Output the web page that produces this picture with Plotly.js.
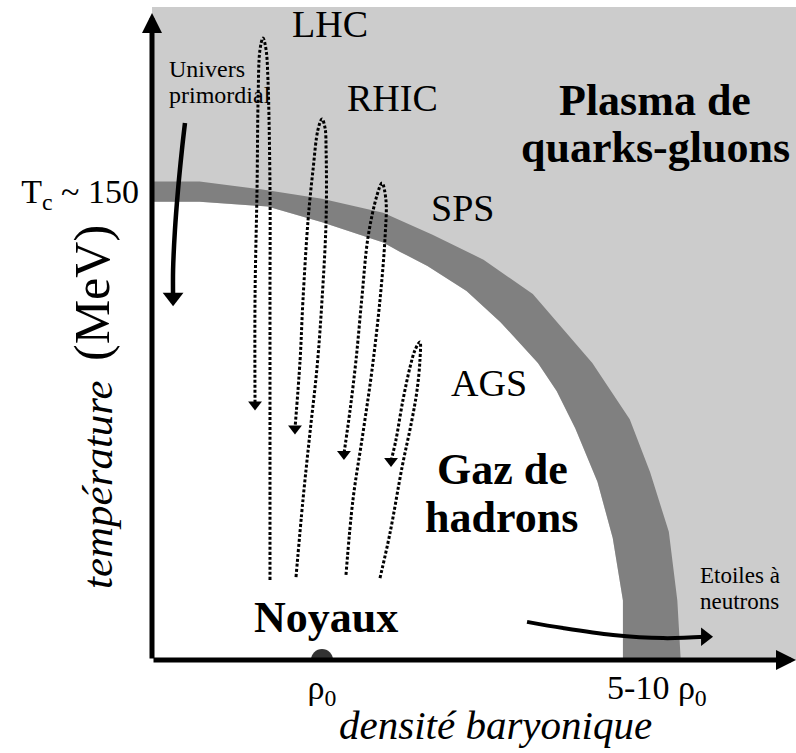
<!DOCTYPE html>
<html><head><meta charset="utf-8">
<script src="https://cdn.plot.ly/plotly-3.0.1.min.js"></script>
<style>html,body{margin:0;padding:0;background:#fff}#chart{width:796px;height:753px}</style>
</head><body><div id="chart"></div>
<script>
// Phase boundary band: density in units of rho0, temperature in MeV
const bandOuterX = [0, 0.28, 0.64, 1.0, 1.36, 1.65, 1.95, 2.24, 2.59, 2.81, 2.93, 3.04, 3.09, 3.11];
const bandOuterT = [153, 153, 150.5, 147.5, 143, 136, 128, 117, 95, 77, 60, 41, 19, 0];
const bandInnerX = [0, 0.28, 0.68, 1.0, 1.36, 1.46, 1.62, 1.85, 2.05, 2.27, 2.38, 2.49, 2.62, 2.71, 2.77, 2.77];
const bandInnerT = [146.5, 146.5, 145, 140, 133.5, 130.5, 126, 118, 108, 95, 86, 74, 57, 39, 19, 0];

// Collision trajectories (rise then cool down)
const lhcX  = [0.694, 0.694, 0.694, 0.694, 0.682, 0.671, 0.653, 0.635, 0.624, 0.618, 0.606, 0.606];
const lhcT  = [25.6, 72.6, 116.1, 151.3, 185.5, 195.1, 198.9, 195.1, 179.1, 151.3, 116.1, 81.7];
const rhicX = [0.847, 0.888, 0.929, 0.971, 1.0, 1.024, 1.024, 1.018, 1.0, 0.976, 0.947, 0.918, 0.888, 0.871, 0.841];
const rhicT = [26.5, 51.2, 72.6, 93.7, 115.1, 140.7, 163.1, 170.1, 173.0, 169.5, 156.7, 140.7, 115.1, 95.9, 74.0];
const spsX  = [1.141, 1.182, 1.241, 1.294, 1.341, 1.371, 1.376, 1.353, 1.324, 1.271, 1.235, 1.2, 1.165, 1.129];
const spsT  = [27.2, 51.2, 72.6, 92.7, 115.1, 135.3, 147.1, 152.5, 148.7, 135.3, 116.1, 95.9, 79.9, 65.9];
const agsX  = [1.341, 1.4, 1.471, 1.529, 1.559, 1.576, 1.576, 1.547, 1.518, 1.476, 1.435, 1.406];
const agsT  = [26.2, 40.6, 61.7, 76.8, 86.3, 95.9, 101.7, 99.1, 93.7, 83.1, 70.4, 63.6];

// Early universe and neutron stars paths
const universX = [0.194, 0.176, 0.153, 0.135, 0.124, 0.124];
const universT = [171.7, 163.1, 150.3, 137.5, 124.7, 116.0];
const etoilesX = [2.206, 2.418, 2.712, 3.006, 3.253];
const etoilesT = [12.2, 10.2, 8.0, 7.0, 7.4];

// Nuclear matter point
const noyauxX = [1];
const noyauxT = [0];

// Ticks
const xTickVals = [1, 2.97];
const xTickText = ['ρ<sub>0</sub>', '5-10 ρ<sub>0</sub>'];
const yTickVals = [150];
const yTickText = ['T<sub>c</sub> ~ 150'];

const X_MAX = 3.788, T_MAX = 208.8, T_ARROW = 206.9;
const SERIF = 'Liberation Serif';

const last = a => a[a.length - 1];
const traces = [];
// hadron gas region (white)
traces.push({x: [0].concat(bandInnerX), y: [0].concat(bandInnerT), mode: 'lines', fill: 'toself',
  fillcolor: '#ffffff', line: {width: 0, color: '#ffffff'}, hoverinfo: 'skip'});
// transition band
traces.push({x: bandOuterX.concat(bandInnerX.slice().reverse()), y: bandOuterT.concat(bandInnerT.slice().reverse()),
  mode: 'lines', fill: 'toself', fillcolor: '#808080', line: {width: 0, color: '#808080'}, hoverinfo: 'skip'});
// trajectories
[[lhcX, lhcT], [rhicX, rhicT], [spsX, spsT], [agsX, agsT]].forEach(([xs, ts]) => {
  traces.push({x: xs, y: ts, mode: 'lines', line: {color: '#000', width: 3, dash: '3px,2px', shape: 'spline'}, hoverinfo: 'skip'});
  traces.push({x: [last(xs)], y: [last(ts)], mode: 'markers', marker: {symbol: 'triangle-down', size: 12, color: '#000'}, hoverinfo: 'skip'});
});
// univers primordial arrow
traces.push({x: universX, y: universT, mode: 'lines', line: {color: '#000', width: 4.5, shape: 'spline'}, hoverinfo: 'skip'});
traces.push({x: [last(universX)], y: [last(universT)], mode: 'markers', marker: {symbol: 'triangle-down', size: 18, color: '#000'}, hoverinfo: 'skip'});
// neutron stars arrow
traces.push({x: etoilesX, y: etoilesT, mode: 'lines', line: {color: '#000', width: 4, shape: 'spline'}, hoverinfo: 'skip'});
traces.push({x: [last(etoilesX)], y: [last(etoilesT)], mode: 'markers', marker: {symbol: 'triangle-right', size: 16, color: '#000'}, hoverinfo: 'skip'});
// nuclei
traces.push({x: noyauxX, y: noyauxT, mode: 'markers', marker: {size: 22, color: '#333333'}, cliponaxis: true, hoverinfo: 'skip'});

const PX = v => (v - 152) / 644;
const PY = v => (660 - v) / 653;
function ann(text, x, y, size, o) {
  const a = {text: text, xref: 'paper', yref: 'paper', x: PX(x), y: PY(y), showarrow: false,
    xanchor: 'center', yanchor: 'middle', font: {family: 'Liberation Serif', size: size}};
  return Object.assign(a, o || {});
}
const annotations = [
  ann('LHC', 330, 24, 38),
  ann('RHIC', 392, 98, 38),
  ann('SPS', 462, 208, 38),
  ann('AGS', 489, 383, 38),
  ann('<b>Plasma de</b>', 655, 100, 44),
  ann('<b>quarks-gluons</b>', 655, 148, 44),
  ann('<b>Gaz de</b>', 502, 469, 44),
  ann('<b>hadrons</b>', 501, 517, 44),
  ann('<b>Noyaux</b>', 326, 617, 44),
  ann('Univers', 167, 69, 24, {xanchor: 'left'}),
  ann('primordial', 167, 95, 24, {xanchor: 'left'}),
  ann('Etoiles à', 698, 575, 23, {xanchor: 'left'}),
  ann('neutrons', 698, 601, 23, {xanchor: 'left'}),
  ann('<i>densité baryonique</i>', 495, 725, 41),
  ann('<i>température</i>', 97, 485, 43, {textangle: -90}),
  ann('(MeV)', 92, 293, 50, {textangle: -90}),
  // axes with arrow heads
  {x: X_MAX, y: 0, ax: 0, ay: 0, xref: 'x', yref: 'y', axref: 'x', ayref: 'y', text: '', showarrow: true,
   arrowhead: 2, arrowwidth: 5, arrowsize: 0.8, arrowcolor: '#000', standoff: 0},
  {x: 0, y: T_ARROW, ax: 0, ay: 0, xref: 'x', yref: 'y', axref: 'x', ayref: 'y', text: '', showarrow: true,
   arrowhead: 2, arrowwidth: 5, arrowsize: 0.8, arrowcolor: '#000', standoff: 0}
];

const layout = {
  width: 796, height: 753,
  font: {family: SERIF, color: '#000000'},
  margin: {l: 152, r: 0, t: 7, b: 93, pad: 0},
  paper_bgcolor: '#ffffff', plot_bgcolor: '#cccccc',
  showlegend: false, hovermode: false,
  xaxis: {range: [0, X_MAX], showgrid: false, zeroline: false, showline: false, ticks: '',
    tickvals: xTickVals, ticktext: xTickText, tickfont: {family: SERIF, size: 34, color: '#000'}, ticklabelstandoff: 4, fixedrange: true},
  yaxis: {range: [0, T_MAX], showgrid: false, zeroline: false, showline: false, ticks: '',
    tickvals: yTickVals, ticktext: yTickText, tickfont: {family: SERIF, size: 34, color: '#000'}, ticklabelstandoff: 12, fixedrange: true},
  annotations: annotations
};
Plotly.newPlot('chart', traces, layout, {staticPlot: true, displayModeBar: false});
</script></body></html>
